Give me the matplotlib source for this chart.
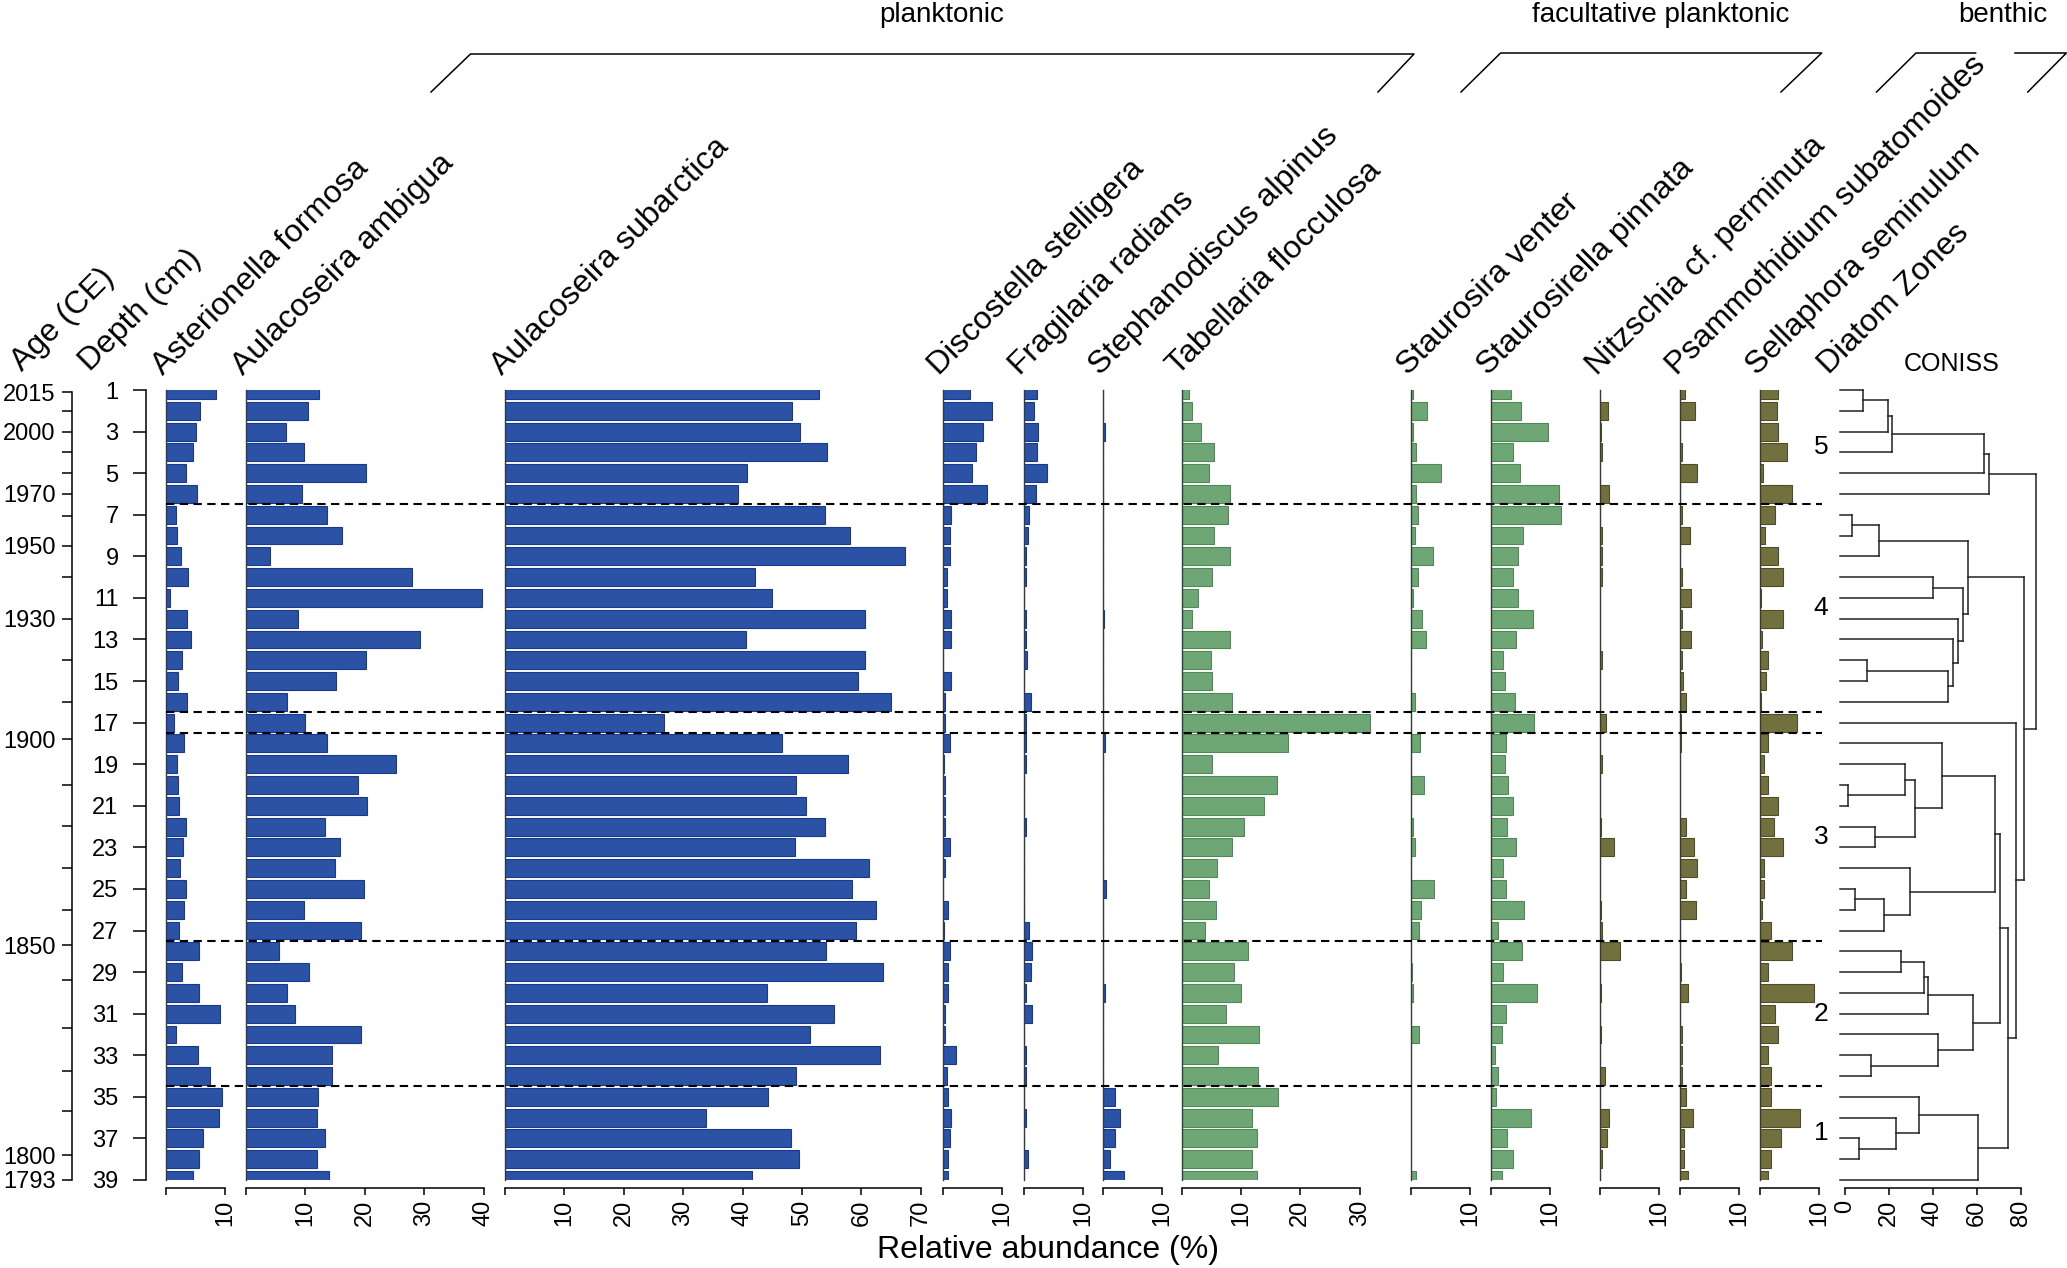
import matplotlib

matplotlib.use("Agg")

import matplotlib.pyplot as plt
import numpy as np
from matplotlib.lines import Line2D
from matplotlib.transforms import blended_transform_factory

plt.rcParams["font.family"] = ["Liberation Sans", "DejaVu Sans"]

W, H = 2067, 1268          # output size in px (dpi 100)
Y_TOP, Y_BOT = 390, 1180   # px rows of depth 1 and depth 39
SCALE = 5.94               # px per % on every abundance panel

DEPTHS = np.arange(1, 40)

# relative abundance (%) per sample, depth 1 (top) .. 39 (bottom)
ASTERIONELLA = [8.5, 5.8, 5.1, 4.6, 3.4, 5.3, 1.7, 1.8, 2.6, 3.7, 0.7, 3.6, 4.2, 2.7, 2.1, 3.5, 1.3, 3.0, 1.8, 2.0,
                2.2, 3.3, 2.9, 2.4, 3.4, 3.0, 2.2, 5.6, 2.7, 5.5, 9.1, 1.6, 5.4, 7.4, 9.4, 8.9, 6.2, 5.5, 4.6]
AMBIGUA = [12.3, 10.5, 6.8, 9.7, 20.2, 9.5, 13.7, 16.2, 4.1, 28.0, 39.8, 8.7, 29.3, 20.2, 15.1, 6.9, 10.0, 13.6, 25.3, 18.9,
           20.3, 13.3, 15.9, 15.0, 19.8, 9.7, 19.3, 5.6, 10.6, 6.9, 8.2, 19.3, 14.5, 14.4, 12.2, 12.0, 13.3, 11.9, 13.9]
SUBARCTICA = [52.8, 48.3, 49.7, 54.2, 40.7, 39.2, 53.8, 58.1, 67.3, 42.1, 45.0, 60.6, 40.6, 60.6, 59.5, 65.0, 26.8, 46.7, 57.8, 49.0,
              50.7, 53.9, 48.8, 61.3, 58.5, 62.5, 59.1, 54.0, 63.7, 44.1, 55.4, 51.4, 63.2, 49.0, 44.3, 33.8, 48.1, 49.5, 41.5]
DISCOSTELLA = [4.6, 8.3, 6.9, 5.7, 4.9, 7.5, 1.4, 1.2, 1.25, 0.8, 0.7, 1.5, 1.4, 0.15, 1.5, 0.4, 0.4, 1.25, 0.2, 0.4,
               0.4, 0.4, 1.2, 0.4, 0.0, 1.0, 0.3, 1.25, 1.0, 1.0, 0.4, 0.4, 2.3, 0.7, 1.0, 1.4, 1.2, 1.0, 1.0]
FRAGILARIA = [2.3, 1.7, 2.4, 2.2, 3.9, 2.1, 1.0, 0.7, 0.4, 0.5, 0.1, 0.4, 0.4, 0.6, 0.0, 1.2, 0.4, 0.4, 0.4, 0.1,
              0.1, 0.4, 0.0, 0.0, 0.0, 0.0, 1.0, 1.5, 1.2, 0.4, 1.4, 0.0, 0.4, 0.4, 0.1, 0.4, 0.0, 0.8, 0.0]
STEPHANODISCUS = [0.0, 0.0, 0.4, 0.0, 0.0, 0.0, 0.0, 0.0, 0.0, 0.0, 0.0, 0.15, 0.0, 0.0, 0.0, 0.0, 0.0, 0.4, 0.0, 0.0,
                  0.0, 0.0, 0.0, 0.0, 0.5, 0.0, 0.0, 0.0, 0.0, 0.4, 0.0, 0.0, 0.0, 0.0, 2.1, 2.9, 2.1, 1.2, 3.5]
TABELLARIA = [1.3, 1.7, 3.3, 5.4, 4.7, 8.1, 7.9, 5.4, 8.2, 5.1, 2.7, 1.8, 8.2, 4.9, 5.1, 8.5, 31.8, 18.0, 5.1, 16.1,
              13.9, 10.6, 8.5, 5.9, 4.6, 5.8, 3.9, 11.2, 8.9, 10.0, 7.5, 13.0, 6.1, 12.8, 16.3, 11.9, 12.7, 11.8, 12.7]
STAUROSIRA = [0.3, 2.7, 0.3, 0.9, 5.1, 0.9, 1.2, 0.7, 3.7, 1.2, 0.4, 1.8, 2.6, 0.0, 0.0, 0.6, 0.0, 1.5, 0.0, 2.2,
              0.0, 0.35, 0.6, 0.0, 3.8, 1.6, 1.3, 0.0, 0.1, 0.35, 0.0, 1.3, 0.0, 0.0, 0.0, 0.0, 0.0, 0.0, 0.9]
STAUROSIRELLA = [3.4, 5.0, 9.6, 3.7, 4.8, 11.4, 11.8, 5.4, 4.5, 3.7, 4.6, 7.0, 4.2, 2.1, 2.3, 4.0, 7.2, 2.5, 2.3, 2.9,
                 3.7, 2.7, 4.2, 2.1, 2.5, 5.5, 1.1, 5.2, 2.0, 7.8, 2.5, 1.8, 0.6, 1.2, 0.9, 6.8, 2.7, 3.7, 1.9]
NITZSCHIA = [0.0, 1.3, 0.15, 0.4, 0.0, 1.5, 0.0, 0.35, 0.4, 0.35, 0.0, 0.0, 0.0, 0.35, 0.0, 0.0, 1.0, 0.0, 0.35, 0.0,
             0.0, 0.15, 2.4, 0.0, 0.0, 0.15, 0.35, 3.3, 0.0, 0.15, 0.0, 0.15, 0.0, 0.9, 0.0, 1.5, 1.1, 0.4, 0.0]
PSAMMOTHIDIUM = [0.85, 2.5, 0.0, 0.4, 2.9, 0.0, 0.35, 1.6, 0.0, 0.35, 1.8, 0.4, 1.9, 0.35, 0.55, 1.0, 0.1, 0.1, 0.0, 0.0,
                 0.0, 1.0, 2.4, 2.9, 1.0, 2.7, 0.0, 0.0, 0.1, 1.3, 0.0, 0.4, 0.4, 0.4, 1.0, 2.25, 0.6, 0.6, 1.4]
SELLAPHORA = [3.1, 2.9, 3.0, 4.5, 0.5, 5.4, 2.5, 0.9, 3.0, 3.9, 0.15, 3.8, 0.35, 1.3, 1.0, 0.15, 6.3, 1.3, 0.6, 1.4,
              3.1, 2.4, 3.8, 0.6, 0.6, 0.35, 1.9, 5.4, 1.4, 9.1, 2.5, 3.1, 1.4, 1.9, 1.8, 6.7, 3.6, 1.8, 1.3]

# age-depth ticks on the left
AGE_TICK_DEPTHS = [1.1, 2.0, 3.0, 4.0, 5.0, 6.0, 7.05, 8.5, 10.0, 12.0, 14.0, 16.0, 17.8, 20.0,
                   21.95, 24.0, 26.0, 27.7, 29.4, 31.7, 33.75, 35.7, 37.8, 39.0]
AGE_LABELS = ["2015", "", "2000", "", "", "1970", "", "1950", "", "1930", "", "", "1900", "",
              "", "", "", "1850", "", "", "", "", "1800", "1793"]

# diatom zones (boundaries between samples) and names
ZONE_BOUNDS = [1, 6.5, 16.5, 17.5, 27.5, 34.5, 39]
ZONE_NAMES = ["5", "4", "", "3", "2", "1"]

# CONISS merges: leaves are depths 1..39, merge i creates node 100 + i
CONISS_MERGES = [
    (1, 2, 8.3), (100, 3, 19.5), (101, 4, 21.5), (102, 5, 63.2), (103, 6, 65.4),
    (7, 8, 3.3), (105, 9, 15.6), (10, 11, 40.2), (14, 15, 10.1), (108, 16, 46.8),
    (13, 109, 49.0), (12, 110, 51.3), (107, 111, 53.7), (106, 112, 55.9),
    (20, 21, 1.5), (19, 114, 27.5), (22, 23, 13.7), (115, 116, 32.0), (18, 117, 44.4),
    (25, 26, 4.8), (119, 27, 17.6), (24, 120, 29.8), (118, 121, 68.1),
    (28, 29, 25.6), (123, 30, 35.9), (124, 31, 37.7), (33, 34, 11.7), (32, 126, 42.3),
    (125, 127, 58.2), (122, 128, 70.5),
    (37, 38, 6.5), (36, 130, 23.5), (35, 131, 33.8), (132, 39, 60.5),
    (129, 133, 74.3), (17, 134, 77.9), (113, 135, 81.5), (104, 136, 86.8),
]

BLUE = ("#2b52a5", "#163b8e")
GREEN = ("#6fa675", "#4e8a56")
OLIVE = ("#72703e", "#4f4d24")

# (label, values, x max, left px, colours)
PANELS = [
    ("Asterionella formosa", ASTERIONELLA, 10, 166, BLUE),
    ("Aulacoseira ambigua", AMBIGUA, 40, 246, BLUE),
    ("Aulacoseira subarctica", SUBARCTICA, 70, 505, BLUE),
    ("Discostella stelligera", DISCOSTELLA, 10, 942.5, BLUE),
    ("Fragilaria radians", FRAGILARIA, 10, 1023.5, BLUE),
    ("Stephanodiscus alpinus", STEPHANODISCUS, 10, 1103, BLUE),
    ("Tabellaria flocculosa", TABELLARIA, 30, 1181.5, GREEN),
    ("Staurosira venter", STAUROSIRA, 10, 1411, GREEN),
    ("Staurosirella pinnata", STAUROSIRELLA, 10, 1491, GREEN),
    ("Nitzschia cf. perminuta", NITZSCHIA, 10, 1600, OLIVE),
    ("Psammothidium subatomoides", PSAMMOTHIDIUM, 10, 1680, OLIVE),
    ("Sellaphora seminulum", SELLAPHORA, 10, 1760, OLIVE),
]

TICK_FS = 17
LABEL_FS = 23
OVERHANG = 3   # extra % room right of each axis so long bars are not cut


def fx(px):
    return px / W


def fy(py):
    return 1 - py / H


def px_axes(fig, x0, x1):
    ax = fig.add_axes([fx(x0), fy(Y_BOT), (x1 - x0) / W, (Y_BOT - Y_TOP) / H])
    ax.patch.set_visible(False)
    return ax


def strip(ax):
    for s in ("top", "right"):
        ax.spines[s].set_visible(False)
    ax.set_ylim(39, 1)
    ax.set_yticks([])


fig = plt.figure(figsize=(W / 100, H / 100), dpi=100)

# ---- age axis
ax_age = px_axes(fig, 71.7, 72.7)
strip(ax_age)
ax_age.spines["bottom"].set_visible(False)
ax_age.spines["left"].set_bounds(AGE_TICK_DEPTHS[0], 39)
ax_age.spines["left"].set_linewidth(1.1)
ax_age.set_xticks([])
ax_age.set_yticks(AGE_TICK_DEPTHS)
ax_age.set_yticklabels(AGE_LABELS)
ax_age.tick_params(axis="y", length=7.5, width=1.1, pad=4, labelsize=TICK_FS)

# ---- depth axis
ax_dep = px_axes(fig, 145.7, 146.7)
strip(ax_dep)
ax_dep.spines["bottom"].set_visible(False)
ax_dep.spines["left"].set_linewidth(1.1)
ax_dep.set_xticks([])
ax_dep.set_yticks(DEPTHS[::2])
ax_dep.set_yticklabels([str(d) for d in DEPTHS[::2]])
ax_dep.tick_params(axis="y", length=9.5, width=1.1, pad=10, labelsize=TICK_FS)

# ---- taxa panels
first_ax = None
for label, vals, xmax, left, (face, edge) in PANELS:
    ax = px_axes(fig, left, left + (xmax + OVERHANG) * SCALE)
    strip(ax)
    if first_ax is None:
        first_ax = ax
    ax.barh(DEPTHS, vals, height=0.86, left=0, color=face, edgecolor=edge, linewidth=0.8, zorder=2)
    ax.set_xlim(0, xmax + OVERHANG)
    ax.spines["left"].set_color("#3a3a3a")
    ax.spines["left"].set_linewidth(1.0)
    ax.spines["bottom"].set_position(("outward", 6))
    ax.spines["bottom"].set_bounds(0, xmax)
    ax.spines["bottom"].set_linewidth(1.1)
    ticks = list(range(0, xmax + 1, 10))
    ax.set_xticks(ticks)
    ax.set_xticklabels(["" if t == 0 else str(t) for t in ticks])
    ax.tick_params(axis="x", length=5, width=1.1, pad=3, labelsize=TICK_FS, labelrotation=90)
    fig.text(fx(left - 3), fy(376), label, rotation=45, rotation_mode="anchor",
             ha="left", va="baseline", fontsize=LABEL_FS)

# ---- CONISS dendrogram
c0, cscale = 1844.8, 2.199
ax_c = px_axes(fig, 1836, 2040)
strip(ax_c)
ax_c.spines["left"].set_visible(False)
ax_c.set_xlim((1836 - c0) / cscale, (2040 - c0) / cscale)
leaf_x = -2.0
pos = {d: (leaf_x, float(d)) for d in DEPTHS}
for i, (a, b, h) in enumerate(CONISS_MERGES):
    (xa, ya), (xb, yb) = pos[a], pos[b]
    ax_c.plot([xa, h], [ya, ya], color="#222222", lw=1.1, clip_on=False)
    ax_c.plot([xb, h], [yb, yb], color="#222222", lw=1.1, clip_on=False)
    ax_c.plot([h, h], [ya, yb], color="#222222", lw=1.1, clip_on=False)
    pos[100 + i] = (h, (ya + yb) / 2)
ax_c.spines["bottom"].set_position(("outward", 6))
ax_c.spines["bottom"].set_bounds(0, 80)
ax_c.spines["bottom"].set_linewidth(1.1)
ax_c.set_xticks([0, 20, 40, 60, 80])
ax_c.tick_params(axis="x", length=5, width=1.1, pad=3, labelsize=TICK_FS, labelrotation=90)
fig.text(fx(1952), fy(364), "CONISS", ha="center", va="center", fontsize=18)

# ---- zone boundaries and labels
tr = blended_transform_factory(fig.transFigure, first_ax.transData)
for yb in ZONE_BOUNDS[1:-1]:
    fig.add_artist(Line2D([fx(166), fx(1822)], [yb, yb], transform=tr, color="black",
                          lw=1.5, linestyle=(0, (4, 2.6)), zorder=5))
for name, lo, hi in zip(ZONE_NAMES, ZONE_BOUNDS[:-1], ZONE_BOUNDS[1:]):
    if name:
        fig.text(fx(1821), (lo + hi) / 2, name, transform=tr, ha="center", va="center", fontsize=19)

# ---- axis titles
fig.text(fx(22), fy(372), "Age (CE)", rotation=45, rotation_mode="anchor",
         ha="left", va="baseline", fontsize=LABEL_FS)
fig.text(fx(90), fy(372), "Depth (cm)", rotation=45, rotation_mode="anchor",
         ha="left", va="baseline", fontsize=LABEL_FS)
fig.text(fx(1829), fy(375), "Diatom Zones", rotation=45, rotation_mode="anchor",
         ha="left", va="baseline", fontsize=LABEL_FS)
fig.text(fx(1048), fy(1250), "Relative abundance (%)", ha="center", va="center", fontsize=LABEL_FS)

# ---- ecological group brackets
BRACKETS = [
    ("planktonic", 942, [(431, 92), (470.5, 54), (1414, 54), (1378, 92)]),
    ("facultative planktonic", 1661, [(1461, 92), (1500.6, 53), (1821.7, 53), (1781, 92)]),
    ("benthic", 2003, [(1876.5, 92), (1916, 53), (1975.6, 53)]),
]
for name, cx, pts in BRACKETS:
    xs, ys = zip(*pts)
    fig.add_artist(Line2D([fx(x) for x in xs], [fy(y) for y in ys], color="black", lw=1.1))
    fig.text(fx(cx), fy(15), name, ha="center", va="center", fontsize=20)
fig.add_artist(Line2D([fx(2015), fx(2066.4), fx(2027.8)], [fy(53), fy(53), fy(92)], color="black", lw=1.1))

fig.savefig("out.png", dpi=100)
